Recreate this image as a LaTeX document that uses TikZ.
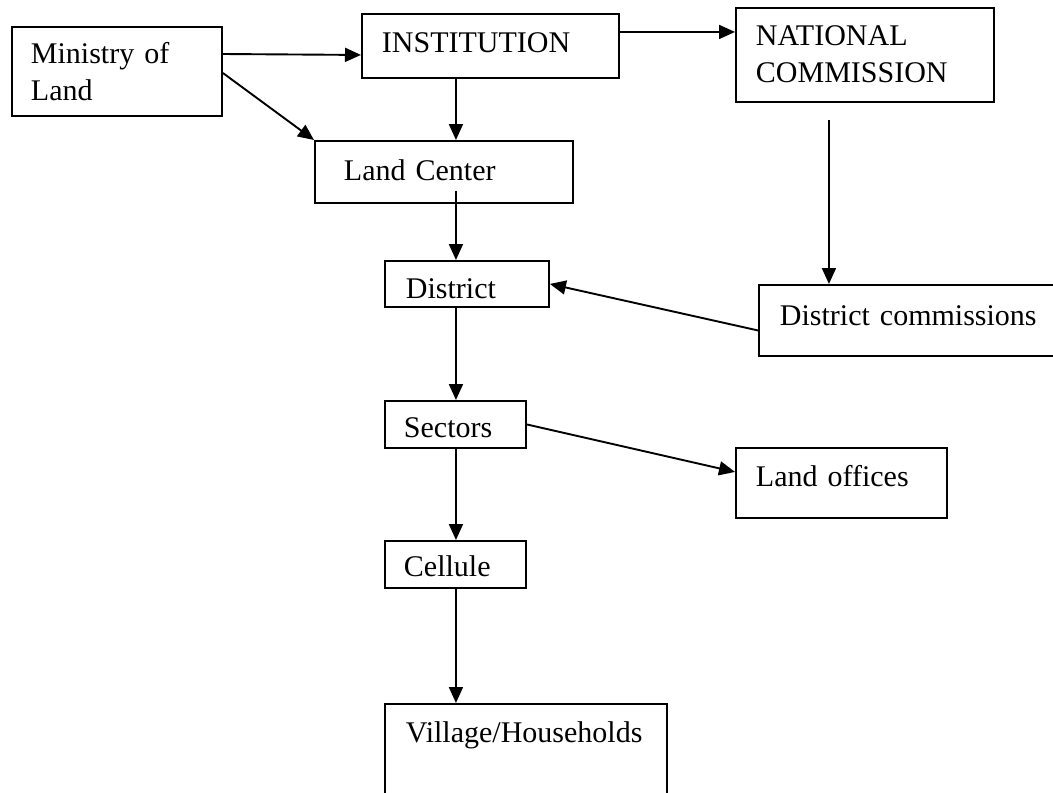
\documentclass[tikz,border=0pt]{standalone}
\usepackage{fontspec}
\setmainfont{Liberation Serif}
\usetikzlibrary{arrows.meta}

\begin{document}
\begin{tikzpicture}
[x=1pt,y=-1pt,
box/.style={draw,line width=1.9pt,anchor=north west,inner ysep=0pt,align=left,font=\fontsize{30}{37}\selectfont},
arr/.style={line width=1.9pt,-{Triangle[length=16pt,width=14pt]}}]
\useasboundingbox (0,0) rectangle (1053,793);
\clip (0,0) rectangle (1053,793);

\node[box,inner xsep=19pt,text width=172pt,text height=37pt,text depth=52pt] (ministry) at (11,26) {Ministry of\\Land};
\node[box,inner xsep=20pt,text width=217pt,text height=39pt,text depth=25pt] (inst) at (361,13) {INSTITUTION};
\node[box,inner xsep=20pt,text width=218pt,text height=38pt,text depth=56pt] (natcom) at (735,7) {NATIONAL\\COMMISSION};
\node[box,inner xsep=29pt,text width=200pt,text height=40pt,text depth=22pt] (center) at (314,140) {Land Center};
\node[box,inner xsep=21pt,text width=122pt,text height=38pt,text depth=8pt] (district) at (384,260) {District};
\node[box,inner xsep=21pt,text width=278pt,text height=41pt,text depth=30pt] (dcomm) at (758,284) {District commissions};
\node[box,inner xsep=19pt,text width=103pt,text height=37pt,text depth=10pt] (sectors) at (384,400) {Sectors};
\node[box,inner xsep=20pt,text width=171pt,text height=39pt,text depth=31pt] (landoff) at (735,447) {Land offices};
\node[box,inner xsep=19pt,text width=103pt,text height=36pt,text depth=11pt] (cellule) at (384,540) {Cellule};
\node[box,inner xsep=21pt,text width=240pt,text height=39pt,text depth=71pt] (village) at (384,703) {Village/Households};

\coordinate (nc) at ([shift={(-36pt,-17pt)}]natcom.south);
\coordinate (cs) at ([xshift=0.5pt]cellule.south);

\draw[arr] ([yshift=-28pt]ministry.north east) -- ([yshift=-9pt]inst.west);
\draw[arr] ([yshift=-47pt]ministry.north east) -- (center.north west);
\draw[arr] ([yshift=14pt]inst.east) -- ([yshift=23pt]natcom.west);
\draw[arr] ([xshift=-34.5pt]inst.south) -- ([xshift=12pt]center.north);
\draw[arr] ([shift={(12pt,13pt)}]center.south) -- ([xshift=-11pt]district.north);
\draw[arr] (nc) -- (nc |- dcomm.north);
\draw[arr] ([yshift=-10pt]dcomm.west) -- (district.east);
\draw[arr] ([xshift=-11pt]district.south) -- ([xshift=0.5pt]sectors.north);
\draw[arr] (sectors.east) -- ([yshift=11pt]landoff.west);
\draw[arr] ([xshift=0.5pt]sectors.south) -- ([xshift=0.5pt]cellule.north);
\draw[arr] (cs) -- (cs |- village.north);
\end{tikzpicture}
\end{document}
